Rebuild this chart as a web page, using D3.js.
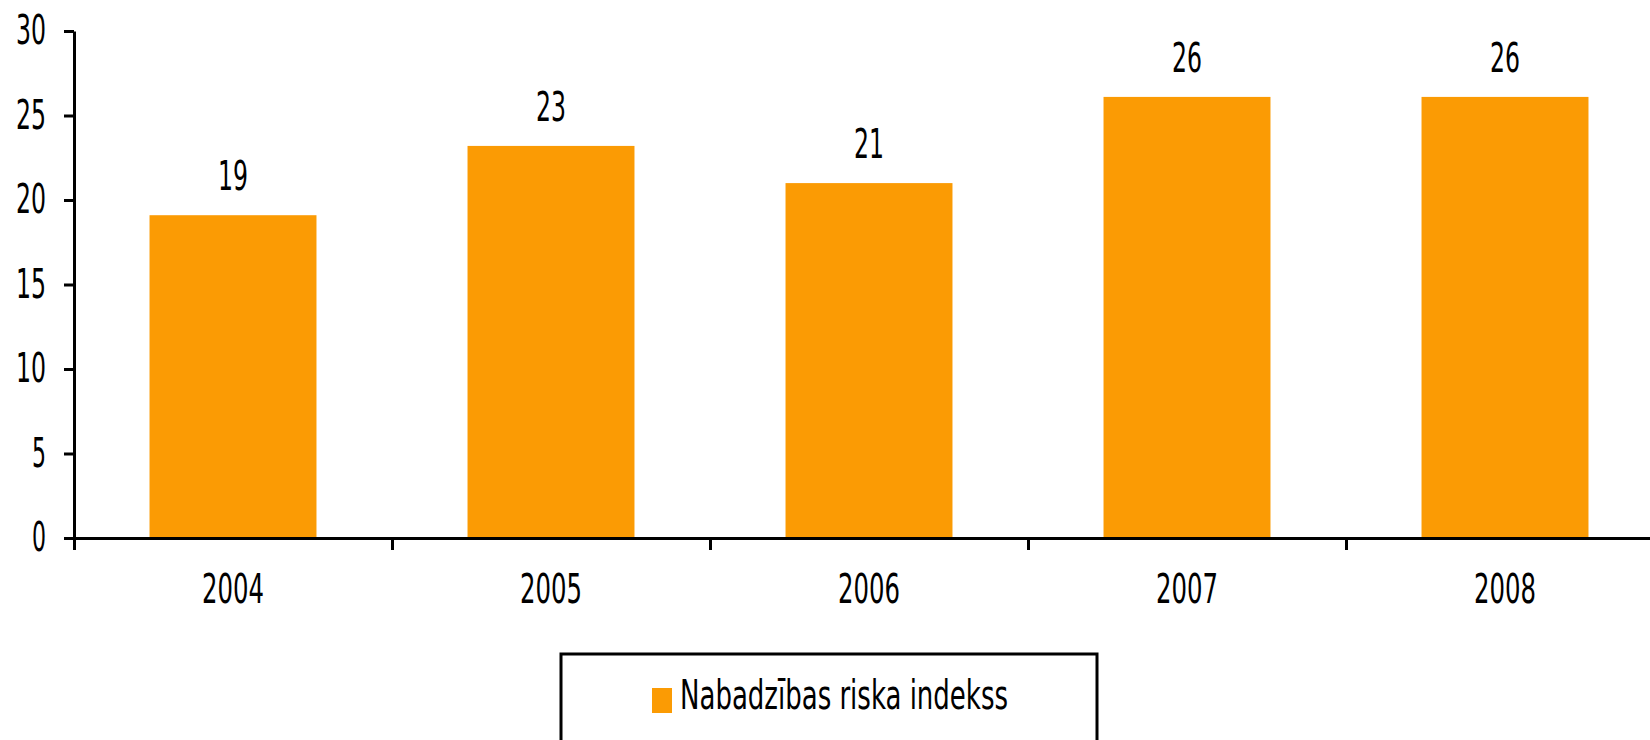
<!DOCTYPE html>
<html>
<head>
<meta charset="utf-8">
<script src="https://cdn.jsdelivr.net/npm/d3@7"></script>
<style>
  body { margin: 0; background: #fff; overflow: hidden; }
  text { font-family: "Liberation Sans Narrow", "DejaVu Sans Condensed", sans-serif; fill: #000; }
</style>
</head>
<body>
<svg id="chart"></svg>
<script>
let years = ["2004", "2005", "2006", "2007", "2008"];
let values = [19.1, 23.2, 21.0, 26.1, 26.1];
let yTicks = [0, 5, 10, 15, 20, 25, 30];
let seriesName = "Nabadzības riska indekss";

let width = 1650;
let height = 740;
let plotLeft = 74, plotRight = 1664, plotTop = 31, plotBottom = 538;
let fontSize = 40;
let digitW = 16;

let svg = d3.select("#chart")
    .attr("width", width)
    .attr("height", height);

let x = d3.scaleBand()
    .domain(years)
    .range([plotLeft, plotRight])
    .paddingInner(0.475)
    .paddingOuter(0.2375);

let xEdges = d3.scaleLinear()
    .domain([0, years.length])
    .range([plotLeft, plotRight]);

let y = d3.scaleLinear()
    .domain([0, 30])
    .range([plotBottom, plotTop]);

// bars
svg.selectAll("rect.bar")
    .data(values)
    .enter()
    .append("rect")
    .attr("class", "bar")
    .attr("x", (d, i) => x(years[i]))
    .attr("width", x.bandwidth())
    .attr("y", d => y(d))
    .attr("height", d => y(0) - y(d))
    .attr("fill", "#fb9b04");

// value labels
svg.selectAll("text.val")
    .data(values)
    .enter()
    .append("text")
    .attr("class", "val")
    .attr("x", (d, i) => x(years[i]) + x.bandwidth() / 2)
    .attr("y", d => y(d) - 25)
    .attr("text-anchor", "middle")
    .attr("font-size", fontSize)
    .attr("textLength", d => d3.format(".0f")(d).length * digitW - 2)
    .attr("lengthAdjust", "spacingAndGlyphs")
    .text(d => d3.format(".0f")(d));

// y axis
svg.append("g")
    .attr("transform", "translate(" + plotLeft + ",0)")
    .call(d3.axisLeft(y).tickValues(yTicks).tickSize(10).tickSizeOuter(0).tickPadding(18));

// x axis: ticks at category edges
svg.append("g")
    .attr("transform", "translate(0," + plotBottom + ")")
    .call(d3.axisBottom(xEdges).ticks(years.length).tickSize(12).tickSizeOuter(0).tickFormat(""));

// x axis labels at category centres
let xAxis = svg.append("g")
    .attr("transform", "translate(0," + plotBottom + ")")
    .call(d3.axisBottom(x).tickSize(0).tickPadding(37));
xAxis.select(".domain").remove();

svg.selectAll(".domain, .tick line")
    .attr("stroke", "#000")
    .attr("stroke-width", 3);

svg.selectAll(".tick text")
    .attr("font-size", fontSize)
    .attr("font-family", "\"Liberation Sans Narrow\", \"DejaVu Sans Condensed\", sans-serif")
    .attr("fill", "#000")
    .attr("textLength", function() { return this.textContent.length * digitW - 2; })
    .attr("lengthAdjust", "spacingAndGlyphs");

// legend
let legend = svg.append("g");
legend.append("rect")
    .attr("x", 561)
    .attr("y", 654)
    .attr("width", 536)
    .attr("height", 120)
    .attr("fill", "none")
    .attr("stroke", "#000")
    .attr("stroke-width", 3);
legend.append("rect")
    .attr("x", 652)
    .attr("y", 688)
    .attr("width", 20)
    .attr("height", 25)
    .attr("fill", "#fb9b04");
legend.append("text")
    .attr("x", 680)
    .attr("y", 709)
    .attr("font-size", fontSize)
    .attr("textLength", 328)
    .attr("lengthAdjust", "spacingAndGlyphs")
    .text(seriesName);
</script>
</body>
</html>
